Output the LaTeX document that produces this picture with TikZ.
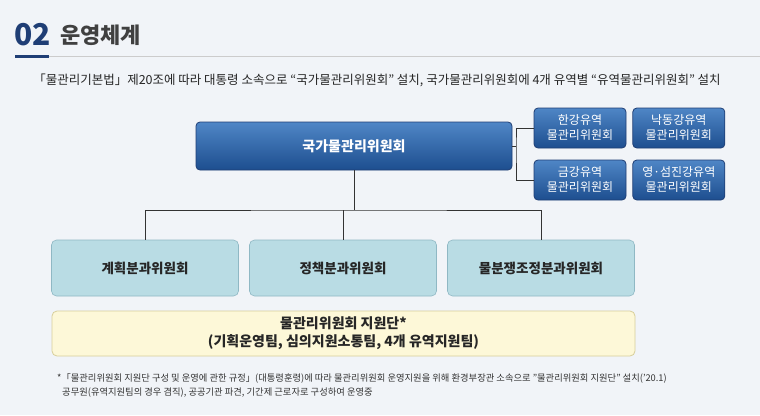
\documentclass[tikz,border=0pt]{standalone}
\usepackage{fontspec}
\setmainfont{Noto Sans CJK KR}
\usetikzlibrary{positioning}
\definecolor{bgcol}{HTML}{F1F4F8}
\definecolor{navy}{HTML}{1F3E75}
\definecolor{bluetop}{HTML}{4F86C6}
\definecolor{bluebot}{HTML}{1D4E8F}
\definecolor{tealfill}{HTML}{B9DCE4}
\definecolor{tealline}{HTML}{8FB8C4}
\definecolor{yellowfill}{HTML}{FDF8D8}
\definecolor{yellowline}{HTML}{D8CF9A}
\tikzset{
  bluebox/.style={rounded corners=4pt, draw=navy, line width=0.8pt, top color=bluetop, bottom color=bluebot, text=white, align=center, font=\fontsize{12}{15}\selectfont, inner sep=0pt},
  tealbox/.style={rounded corners=5pt, draw=tealline, line width=0.6pt, fill=tealfill, text=black!85, font=\bfseries\fontsize{13.5}{16}\selectfont, minimum width=187pt, minimum height=56pt},
  tree/.style={draw=black!80, line width=1pt}
}
\begin{document}
\begin{tikzpicture}[x=1pt, y=-1pt]
	%background and header
	\fill[bgcol] (0,0) rectangle (760,415);
	\useasboundingbox (0,0) rectangle (760,415);
	\node[anchor=west, text=navy, font=\bfseries\fontsize{30}{32}\selectfont, inner sep=0pt] (num) at (14,35) {02};
	\node[anchor=west, text=black!75, font=\bfseries\fontsize{22}{24}\selectfont, inner sep=0pt] (title) at (60,35) {운영체계};
	\draw[black!20, line width=1pt] (48,56) -- (760,56);
	\draw[navy, line width=3pt] (15,56) -- (49,56);
	\node[font=\fontsize{12.5}{14}\selectfont, text=black!85] (sub) at (377,80) {「물관리기본법」제20조에 따라 대통령 소속으로 “국가물관리위원회” 설치, 국가물관리위원회에 4개 유역별 “유역물관리위원회” 설치};

	%national committee and basin committees
	\node[bluebox, minimum width=316pt, minimum height=48pt, font=\bfseries\fontsize{14}{16}\selectfont] (nat) at (354,146) {국가물관리위원회};
	\node[bluebox, minimum width=92pt, minimum height=40pt] (han) at (580,128) {한강유역\\물관리위원회};
	\node[bluebox, minimum width=92pt, minimum height=40pt, right=6pt of han] (nak) {낙동강유역\\물관리위원회};
	\node[bluebox, minimum width=92pt, minimum height=40pt] (geum) at (580,180) {금강유역\\물관리위원회};
	\node[bluebox, minimum width=92pt, minimum height=40pt, right=6pt of geum] (ys) {영·섬진강유역\\물관리위원회};
	\coordinate (br) at (516,146);
	\draw[tree] (nat.east) -- (br);
	\draw[tree] (han.west) -| (br) |- (geum.west);

	%subcommittees
	\node[tealbox] (plan) at (145,268) {계획분과위원회};
	\node[tealbox] (pol) at (343,268) {정책분과위원회};
	\node[tealbox] (disp) at (541,268) {물분쟁조정분과위원회};
	\coordinate (split) at (354,210);
	\draw[tree] (nat.south) -- (split);
	\draw[tree] (plan.north) |- (split) -| (disp.north);
	\draw[tree] (pol.north) -- (pol.north |- split);

	%support group
	\node[rounded corners=5pt, draw=yellowline, line width=0.8pt, fill=yellowfill, minimum width=583pt, minimum height=45pt, align=center, font=\bfseries\fontsize{14}{18}\selectfont, text=black!85] (sup) at (343.5,333.5) {물관리위원회 지원단*\\(기획운영팀, 심의지원소통팀, 4개 유역지원팀)};

	%footnote
	\node[anchor=north west, align=left, font=\fontsize{9.3}{14}\selectfont, text=black!80, inner sep=0pt] (note) at (57,373) {*「물관리위원회 지원단 구성 및 운영에 관한 규정」(대통령훈령)에 따라 물관리위원회 운영지원을 위해 환경부장관 소속으로 "물관리위원회 지원단" 설치(’20.1)\\\hspace*{5pt}공무원(유역지원팀의 경우 겸직), 공공기관 파견, 기간제 근로자로 구성하여 운영중};
\end{tikzpicture}
\end{document}
